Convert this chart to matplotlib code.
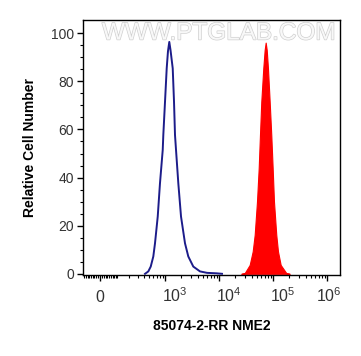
import matplotlib
matplotlib.use("Agg")
import matplotlib.pyplot as plt
import matplotlib.patheffects as pe
from matplotlib.transforms import ScaledTranslation

plt.rcParams["font.family"] = ["Liberation Sans", "DejaVu Sans"]
plt.rcParams["mathtext.fontset"] = "custom"
plt.rcParams["mathtext.rm"] = "Liberation Sans"

# Control (blue outline) histogram
blue_x = [417, 482, 536, 600, 646, 727, 801, 902, 925, 995, 1070, 1130,
          1196, 1260, 1385, 1464, 1527, 1595, 1760, 1975, 2341, 2696,
          3338, 4443, 5986, 9053, 11350]
blue_y = [0, 1.0, 3.0, 7.2, 12.7, 23.8, 37.6, 51.5, 57.7, 71.5, 85.4, 92.5,
          96.4, 93, 85.4, 71.5, 57.7, 51.5, 37.6, 23.8, 12.7, 7.2,
          3.0, 1.0, 0.4, 0.2, 0]

# Stained sample (red filled) histogram
red_x = [25860, 29890, 36980, 42040, 45780, 50490, 54290, 57340, 60640,
         66030, 70000, 73130, 76500, 80630, 86740, 92850, 98550, 104200,
         114900, 123600, 138600, 176000, 203500]
red_y = [0, 0.3, 3.7, 9.3, 16.2, 30, 43.8, 57.7, 71.5,
         85.4, 93, 96.1, 93, 85.4, 71.5, 57.7, 43.8, 30,
         16.2, 9.3, 3.7, 0.3, 0]

x_major = [0, 1e3, 1e4, 1e5, 1e6]
x_labels = ["0", "$10^3$", "$10^4$", "$10^5$", "$10^6$"]
x_minor = ([-v for v in range(10, 100, 10)] + list(range(10, 100, 10))
           + list(range(100, 1000, 100)) + list(range(2000, 10000, 1000))
           + list(range(20000, 100000, 10000))
           + list(range(200000, 1000000, 100000)))
y_major = [0, 20, 40, 60, 80, 100]

fig = plt.figure(figsize=(3.61, 3.56), dpi=100)
ax = fig.add_axes([0.2299, 0.2275, 0.7119, 0.7163])

ax.set_xscale("asinh", linear_width=125)
ax.fill_between(red_x, red_y, 0, color="#ff0000", lw=0.8, zorder=2)
ax.plot(blue_x, blue_y, color="#1c1c8a", lw=1.4, zorder=3)

ax.set_xlim(-99, 1.74e6)
ax.set_ylim(-0.5, 105.5)

ax.set_xticks(x_major)
ax.set_xticklabels(x_labels)
ax.set_xticks(x_minor, minor=True)
ax.set_yticks(y_major)
ax.set_yticks(range(0, 101, 5), minor=True)

ax.tick_params(axis="both", which="major", length=4.5, width=1, labelsize=10,
               colors="black")
ax.tick_params(axis="both", which="minor", length=2.5, width=0.8)
ax.tick_params(axis="x", pad=15, labelsize=11.5)
ax.tick_params(axis="y", pad=2)
for lab in ax.get_yticklabels():
    lab.set_color("#333333")

# shift the power-of-ten labels so they start near the tick, like the original
offsets = [0, 7, 7, 7, 1]
for lab, dx in zip(ax.get_xticklabels(), offsets):
    lab.set_verticalalignment("baseline")
    lab.set_color("#333333")
    lab.set_transform(lab.get_transform() + ScaledTranslation(dx / 72, 0, fig.dpi_scale_trans))

for s in ax.spines.values():
    s.set_linewidth(1)

ax.set_xlabel("85074-2-RR NME2", fontsize=10, fontweight="bold", labelpad=10)
ax.set_ylabel("Relative Cell Number", fontsize=10, fontweight="bold", labelpad=10)

# watermark
ax.text(0.527, 0.947, "WWW.PTGLAB.COM", transform=ax.transAxes, fontsize=17.5,
        ha="center", va="center", color="#f8f8f8", zorder=4,
        path_effects=[pe.withStroke(linewidth=1.0, foreground="#d0d0d0")])

plt.savefig("out.png", dpi=100)
